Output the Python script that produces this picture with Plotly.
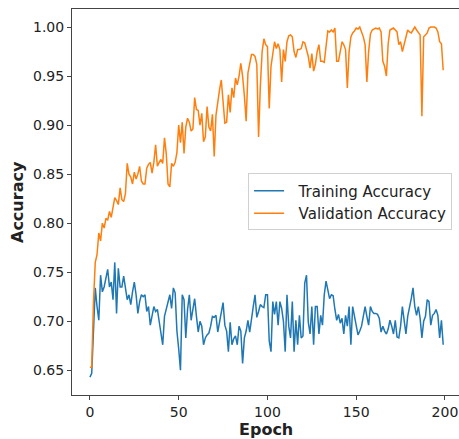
import plotly.graph_objects as go

epochs = list(range(200))

train_acc = [
    0.643, 0.647, 0.690, 0.734, 0.715, 0.701, 0.747, 0.730, 0.735, 0.745,
    0.753, 0.735, 0.740, 0.722, 0.760, 0.708, 0.754, 0.735, 0.735, 0.746,
    0.735, 0.722, 0.727, 0.717, 0.730, 0.740, 0.727, 0.708, 0.720, 0.727,
    0.725, 0.727, 0.710, 0.715, 0.696, 0.705, 0.715, 0.710, 0.712, 0.700,
    0.690, 0.676, 0.705, 0.712, 0.718, 0.727, 0.713, 0.734, 0.729, 0.690,
    0.672, 0.650, 0.727, 0.722, 0.683, 0.712, 0.727, 0.701, 0.712, 0.723,
    0.705, 0.689, 0.700, 0.695, 0.676, 0.683, 0.686, 0.688, 0.695, 0.705,
    0.704, 0.706, 0.689, 0.700, 0.710, 0.719, 0.696, 0.690, 0.669, 0.699,
    0.676, 0.682, 0.685, 0.676, 0.695, 0.690, 0.657, 0.683, 0.690, 0.701,
    0.689, 0.700, 0.715, 0.727, 0.704, 0.710, 0.717, 0.715, 0.714, 0.727,
    0.727, 0.680, 0.669, 0.720, 0.707, 0.720, 0.696, 0.720, 0.713, 0.700,
    0.669, 0.727, 0.695, 0.683, 0.720, 0.669, 0.701, 0.676, 0.706, 0.683,
    0.685, 0.739, 0.747, 0.699, 0.687, 0.715, 0.676, 0.715, 0.715, 0.687,
    0.706, 0.696, 0.727, 0.741, 0.730, 0.723, 0.727, 0.726, 0.712, 0.701,
    0.707, 0.698, 0.703, 0.687, 0.706, 0.695, 0.715, 0.676, 0.715, 0.705,
    0.695, 0.686, 0.690, 0.695, 0.705, 0.715, 0.705, 0.696, 0.715, 0.710,
    0.708, 0.708, 0.707, 0.703, 0.689, 0.695, 0.690, 0.687, 0.692, 0.701,
    0.695, 0.687, 0.701, 0.684, 0.683, 0.695, 0.715, 0.700, 0.687, 0.705,
    0.713, 0.723, 0.734, 0.715, 0.706, 0.715, 0.703, 0.683, 0.700, 0.705,
    0.722, 0.720, 0.696, 0.706, 0.708, 0.712, 0.706, 0.683, 0.701, 0.676,
]

val_acc = [
    0.653, 0.653, 0.720, 0.760, 0.768, 0.790, 0.782, 0.800, 0.795, 0.805,
    0.803, 0.812, 0.806, 0.818, 0.826, 0.823, 0.819, 0.836, 0.824, 0.822,
    0.830, 0.861, 0.850, 0.847, 0.840, 0.852, 0.845, 0.850, 0.858, 0.843,
    0.840, 0.840, 0.856, 0.860, 0.862, 0.851, 0.862, 0.880, 0.858, 0.862,
    0.865, 0.861, 0.887, 0.871, 0.840, 0.837, 0.861, 0.858, 0.862, 0.872,
    0.900, 0.882, 0.903, 0.871, 0.898, 0.907, 0.903, 0.894, 0.896, 0.928,
    0.916, 0.915, 0.900, 0.912, 0.883, 0.888, 0.919, 0.898, 0.894, 0.911,
    0.868, 0.910, 0.925, 0.936, 0.946, 0.920, 0.902, 0.903, 0.931, 0.913,
    0.938, 0.928, 0.948, 0.941, 0.950, 0.963, 0.950, 0.930, 0.904, 0.953,
    0.965, 0.972, 0.972, 0.970, 0.962, 0.888, 0.940, 0.975, 0.988, 0.982,
    0.980, 0.917, 0.960, 0.975, 0.985, 0.978, 0.983, 0.977, 0.944, 0.977,
    0.965, 0.985, 0.991, 0.992, 0.990, 0.975, 0.969, 0.977, 0.977, 0.978,
    0.985, 0.984, 0.977, 0.970, 0.958, 0.973, 0.955, 0.962, 0.975, 0.982,
    0.965, 0.965, 0.964, 0.980, 0.996, 0.995, 0.997, 0.995, 0.999, 0.965,
    0.965, 0.975, 0.985, 0.982, 0.977, 0.938, 0.975, 0.990, 0.994, 0.996,
    0.999, 0.998, 1.000, 0.995, 0.990, 0.982, 0.944, 0.975, 0.993, 0.997,
    0.998, 0.999, 0.998, 0.999, 0.995, 0.965, 0.960, 0.950, 0.983, 0.997,
    0.998, 0.999, 0.997, 0.995, 0.982, 0.985, 0.975, 0.982, 0.987, 0.997,
    0.995, 0.994, 0.997, 1.000, 0.997, 0.995, 0.992, 0.909, 0.990, 0.992,
    0.994, 0.999, 1.000, 1.000, 1.000, 0.999, 0.995, 0.985, 0.983, 0.956,
]

x_ticks = [0, 50, 100, 150, 200]
y_ticks = [0.65, 0.70, 0.75, 0.80, 0.85, 0.90, 0.95, 1.00]
series_names = ["Training Accuracy", "Validation Accuracy"]

FONT = "DejaVu Sans"
PAD = "\u00a0\u00a0"

fig = go.Figure()
fig.add_trace(go.Scatter(x=epochs, y=train_acc, mode="lines", name=PAD + series_names[0],
                         line=dict(color="#1f77b4", width=1.5)))
fig.add_trace(go.Scatter(x=epochs, y=val_acc, mode="lines", name=PAD + series_names[1],
                         line=dict(color="#ff7f0e", width=1.5)))

fig.update_layout(
    width=459, height=439,
    margin=dict(l=72, r=0, t=9, b=44),
    paper_bgcolor="white", plot_bgcolor="white",
    font=dict(family=FONT, size=14, color="#222"),
    showlegend=True,
    legend=dict(x=0.455, y=0.574, xanchor="left", yanchor="top",
                bgcolor="rgba(255,255,255,0.85)", bordercolor="#d0d0d0", borderwidth=1,
                font=dict(family=FONT, size=15, color="#222"),
                tracegroupgap=0, itemwidth=30),
    xaxis=dict(range=[-10.1, 207.9], tickvals=x_ticks, ticktext=[str(v) for v in x_ticks],
               showgrid=False, zeroline=False, showline=True, linecolor="#444", linewidth=1,
               mirror=True, ticks="outside", ticklen=4, tickcolor="#444",
               tickfont=dict(family=FONT, size=14, color="#222")),
    yaxis=dict(range=[0.6248, 1.0184], tickvals=y_ticks, ticktext=[f"{v:.2f}" for v in y_ticks],
               showgrid=False, zeroline=False, showline=True, linecolor="#444", linewidth=1,
               mirror=False, ticks="outside", ticklen=4, tickcolor="#444",
               tickfont=dict(family=FONT, size=14, color="#222")),
    annotations=[
        dict(text="<b>Epoch</b>", xref="paper", yref="paper", x=0.5, y=0, yshift=-34,
             xanchor="center", yanchor="middle", showarrow=False,
             font=dict(family=FONT, size=16, color="#222")),
        dict(text="<b>Accuracy</b>", xref="paper", yref="paper", x=0, xshift=-55, y=0.5,
             xanchor="center", yanchor="middle", textangle=-90, showarrow=False,
             font=dict(family=FONT, size=16, color="#222")),
    ],
)

fig.write_html("out.html")
